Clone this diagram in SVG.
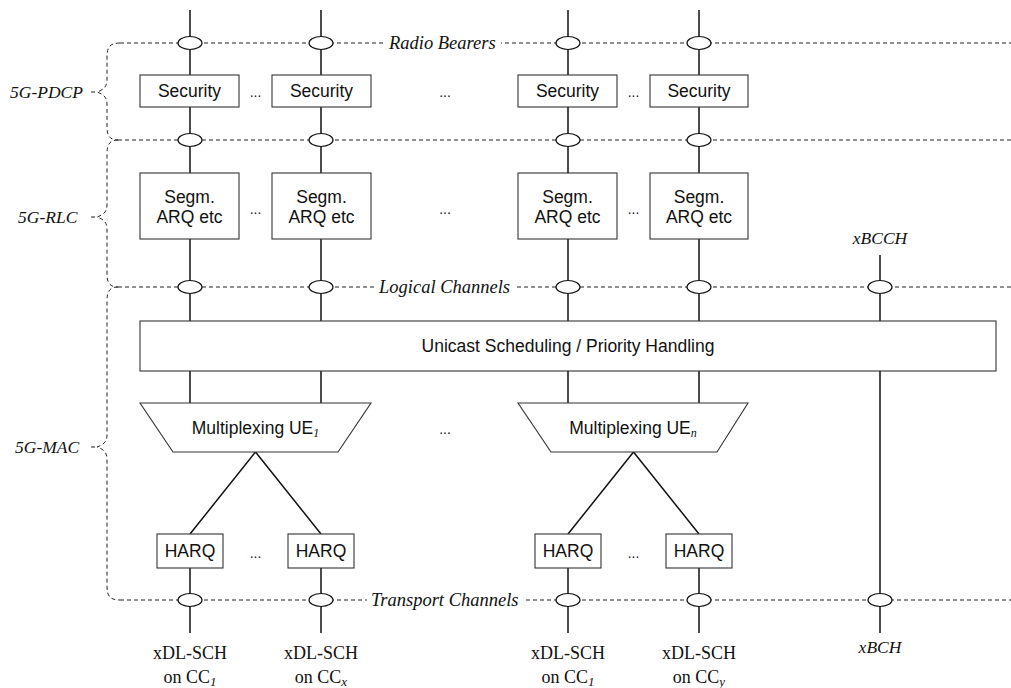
<svg xmlns="http://www.w3.org/2000/svg" width="1011" height="688" viewBox="0 0 1011 688">
  <style>
    .bg { fill: #ffffff; }
    .dash { fill: none; stroke: #222; stroke-width: 1; stroke-dasharray: 4 3; }
    .wire { fill: none; stroke: #111; stroke-width: 1.5; }
    .box { fill: #ffffff; stroke: #333; stroke-width: 1.1; }
    .port { fill: #ffffff; stroke: #111; stroke-width: 1.2; }
    .sans { font-family: "Liberation Sans", Arial, sans-serif; font-size: 17.5px; fill: #111; text-anchor: middle; }
    .dots { font-family: "Liberation Sans", Arial, sans-serif; font-size: 14px; fill: #111; text-anchor: middle; }
    .ital { font-family: "Liberation Serif", "Times New Roman", serif; font-style: italic; font-size: 17.5px; fill: #111; }
    .chan { font-size: 18.5px; }
    .serif { font-family: "Liberation Serif", "Times New Roman", serif; font-size: 18px; fill: #111; text-anchor: middle; }
  </style>

  <rect class="bg" x="0" y="0" width="1011" height="688"/>

  <!-- layer boundaries and braces -->
  <g id="layer-bounds">
    <line class="dash" x1="120" y1="43" x2="1011" y2="43"/>
    <line class="dash" x1="118" y1="140" x2="1011" y2="140"/>
    <line class="dash" x1="118" y1="287" x2="1011" y2="287"/>
    <line class="dash" x1="120" y1="600" x2="1011" y2="600"/>
    <!-- 5G-PDCP brace -->
    <path class="dash" d="M120,43 C110,43 107,47 107,57 L107,80 C107,87 103,90 97,92 C103,94 107,97 107,104 L107,127 C107,136 110,140 118,140"/>
    <line class="dash" x1="91" y1="92" x2="97" y2="92" stroke-dasharray="none"/>
    <!-- 5G-RLC brace -->
    <path class="dash" d="M118,140 C110,140 107,144 107,154 L107,205 C107,212 103,215 97,217 C103,219 107,222 107,229 L107,274 C107,283 110,287 118,287"/>
    <line class="dash" x1="91" y1="217" x2="97" y2="217" stroke-dasharray="none"/>
    <!-- 5G-MAC brace -->
    <path class="dash" d="M118,287 C110,287 107,291 107,301 L107,435 C107,442 103,445 97,447 C103,449 107,452 107,459 L107,586 C107,596 110,600 120,600"/>
    <line class="dash" x1="91" y1="447" x2="97" y2="447" stroke-dasharray="none"/>
  </g>

  <!-- boundary and layer labels -->
  <g id="labels">
    <rect class="bg" x="385" y="34" width="116" height="18"/>
    <text class="ital chan" x="389" y="49">Radio Bearers</text>
    <rect class="bg" x="376" y="278" width="141" height="18"/>
    <text class="ital chan" x="379" y="293">Logical Channels</text>
    <rect class="bg" x="367" y="591" width="158" height="18"/>
    <text class="ital chan" x="371" y="606">Transport Channels</text>
    <text class="ital" x="10" y="98">5G-PDCP</text>
    <text class="ital" x="18" y="223">5G-RLC</text>
    <text class="ital" x="15" y="453">5G-MAC</text>
  </g>

  <!-- connectors -->
  <g id="connectors">
    <path class="wire" d="M190,10 V75 M190,107 V173 M190,239 V321 M190,371 V403 M190,568 V633"/>
    <path class="wire" d="M321,10 V75 M321,107 V173 M321,239 V321 M321,371 V403 M321,568 V633"/>
    <path class="wire" d="M568,10 V75 M568,107 V173 M568,239 V321 M568,371 V403 M568,568 V633"/>
    <path class="wire" d="M699,10 V75 M699,107 V173 M699,239 V321 M699,371 V403 M699,568 V633"/>
    <path class="wire" d="M880,255 V321 M880,371 V633"/>
    <path class="wire" d="M190,534 L255.5,452 L321,534"/>
    <path class="wire" d="M568,534 L633.5,452 L699,534"/>
  </g>

  <!-- service access points -->
  <g id="ports">
    <ellipse class="port" cx="190" cy="43" rx="12" ry="6.5"/>
    <ellipse class="port" cx="321" cy="43" rx="12" ry="6.5"/>
    <ellipse class="port" cx="568" cy="43" rx="12" ry="6.5"/>
    <ellipse class="port" cx="699" cy="43" rx="12" ry="6.5"/>
    <ellipse class="port" cx="190" cy="140" rx="12" ry="6.5"/>
    <ellipse class="port" cx="321" cy="140" rx="12" ry="6.5"/>
    <ellipse class="port" cx="568" cy="140" rx="12" ry="6.5"/>
    <ellipse class="port" cx="699" cy="140" rx="12" ry="6.5"/>
    <ellipse class="port" cx="190" cy="287" rx="12" ry="6.5"/>
    <ellipse class="port" cx="321" cy="287" rx="12" ry="6.5"/>
    <ellipse class="port" cx="568" cy="287" rx="12" ry="6.5"/>
    <ellipse class="port" cx="699" cy="287" rx="12" ry="6.5"/>
    <ellipse class="port" cx="880" cy="287" rx="12" ry="6.5"/>
    <ellipse class="port" cx="190" cy="600" rx="12" ry="6.5"/>
    <ellipse class="port" cx="321" cy="600" rx="12" ry="6.5"/>
    <ellipse class="port" cx="568" cy="600" rx="12" ry="6.5"/>
    <ellipse class="port" cx="699" cy="600" rx="12" ry="6.5"/>
    <ellipse class="port" cx="880" cy="600" rx="12" ry="6.5"/>
  </g>

  <!-- PDCP entities -->
  <g id="security-1"><rect class="box" x="140" y="75" width="99" height="32"/><text class="sans" x="189.5" y="97">Security</text></g>
  <g id="security-2"><rect class="box" x="272" y="75" width="99" height="32"/><text class="sans" x="321.5" y="97">Security</text></g>
  <g id="security-3"><rect class="box" x="518" y="75" width="99" height="32"/><text class="sans" x="567.5" y="97">Security</text></g>
  <g id="security-4"><rect class="box" x="650" y="75" width="98" height="32"/><text class="sans" x="699" y="97">Security</text></g>

  <!-- RLC entities -->
  <g id="segm-1"><rect class="box" x="140" y="173" width="99" height="66"/><text class="sans" x="189.5" y="203">Segm.</text><text class="sans" x="189.5" y="223">ARQ etc</text></g>
  <g id="segm-2"><rect class="box" x="272" y="173" width="99" height="66"/><text class="sans" x="321.5" y="203">Segm.</text><text class="sans" x="321.5" y="223">ARQ etc</text></g>
  <g id="segm-3"><rect class="box" x="518" y="173" width="99" height="66"/><text class="sans" x="567.5" y="203">Segm.</text><text class="sans" x="567.5" y="223">ARQ etc</text></g>
  <g id="segm-4"><rect class="box" x="650" y="173" width="98" height="66"/><text class="sans" x="699" y="203">Segm.</text><text class="sans" x="699" y="223">ARQ etc</text></g>

  <!-- MAC scheduler -->
  <g id="scheduler"><rect class="box" x="140" y="321" width="856" height="50"/><text class="sans" x="568" y="352">Unicast Scheduling / Priority Handling</text></g>

  <!-- multiplexing per UE -->
  <g id="mux-1"><polygon class="box" points="140,403 371,403 338,452 173,452"/><text class="sans" x="255.5" y="434">Multiplexing UE<tspan font-family="Liberation Serif, serif" font-style="italic" font-size="12" dy="3">1</tspan></text></g>
  <g id="mux-n"><polygon class="box" points="518,403 748,403 717,452 551,452"/><text class="sans" x="633" y="434">Multiplexing UE<tspan font-family="Liberation Serif, serif" font-style="italic" font-size="12" dy="3">n</tspan></text></g>

  <!-- HARQ entities -->
  <g id="harq-1"><rect class="box" x="157" y="534" width="66" height="34"/><text class="sans" x="190" y="557">HARQ</text></g>
  <g id="harq-2"><rect class="box" x="288" y="534" width="66" height="34"/><text class="sans" x="321" y="557">HARQ</text></g>
  <g id="harq-3"><rect class="box" x="535" y="534" width="66" height="34"/><text class="sans" x="568" y="557">HARQ</text></g>
  <g id="harq-4"><rect class="box" x="666" y="534" width="66" height="34"/><text class="sans" x="699" y="557">HARQ</text></g>

  <!-- ellipses between entities -->
  <g id="ellipses">
    <text class="dots" x="255.5" y="97">...</text>
    <text class="dots" x="445" y="97">...</text>
    <text class="dots" x="633.5" y="97">...</text>
    <text class="dots" x="255.5" y="214">...</text>
    <text class="dots" x="445" y="214">...</text>
    <text class="dots" x="633.5" y="214">...</text>
    <text class="dots" x="445" y="434">...</text>
    <text class="dots" x="255.5" y="558">...</text>
    <text class="dots" x="633.5" y="558">...</text>
  </g>

  <!-- broadcast channel -->
  <g id="bcch">
    <text class="ital" x="880" y="244" text-anchor="middle">xBCCH</text>
    <text class="ital" x="880" y="653" text-anchor="middle">xBCH</text>
  </g>

  <!-- transport channels -->
  <g id="dlsch-1"><text class="serif" x="190" y="659">xDL-SCH</text><text class="serif" x="190" y="683">on CC<tspan font-style="italic" font-size="13" dy="3">1</tspan></text></g>
  <g id="dlsch-2"><text class="serif" x="321" y="659">xDL-SCH</text><text class="serif" x="321" y="683">on CC<tspan font-style="italic" font-size="13" dy="3">x</tspan></text></g>
  <g id="dlsch-3"><text class="serif" x="568" y="659">xDL-SCH</text><text class="serif" x="568" y="683">on CC<tspan font-style="italic" font-size="13" dy="3">1</tspan></text></g>
  <g id="dlsch-4"><text class="serif" x="699" y="659">xDL-SCH</text><text class="serif" x="699" y="683">on CC<tspan font-style="italic" font-size="13" dy="3">y</tspan></text></g>
</svg>
